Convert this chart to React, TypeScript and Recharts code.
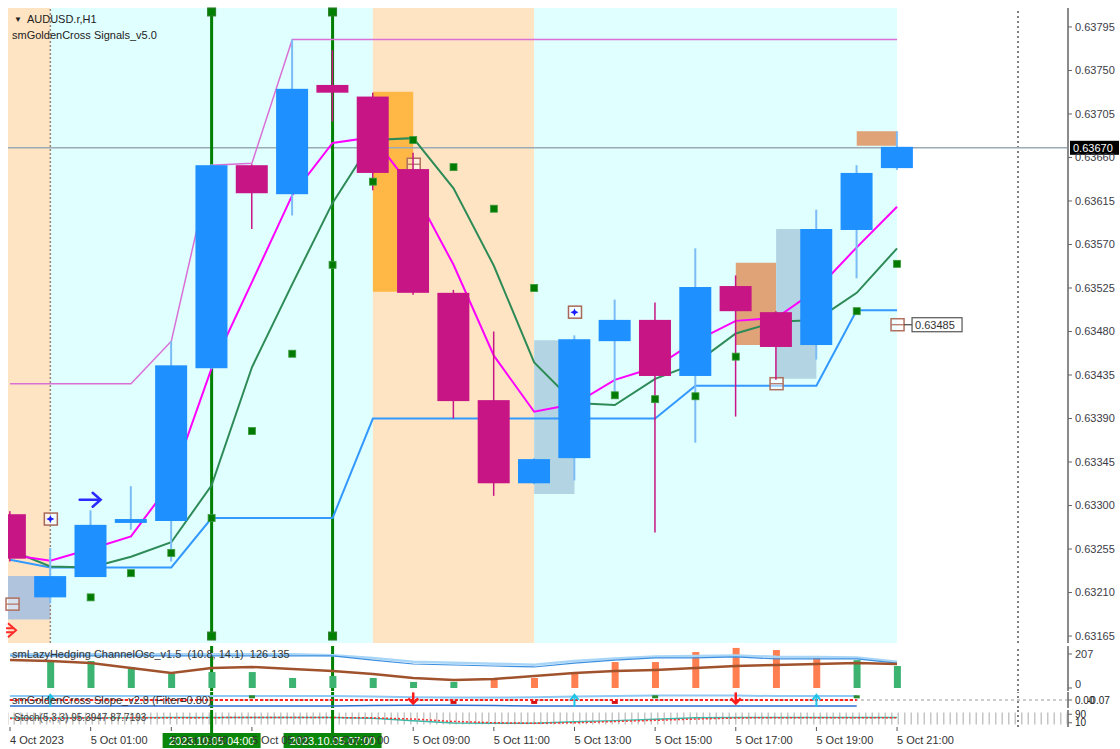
import React from 'react'
import {
  Bar,
  ComposedChart,
  Line,
  ReferenceArea,
  ReferenceDot,
  ReferenceLine,
  Scatter,
  XAxis,
  YAxis,
} from 'recharts'

const FONT = "'Liberation Sans', Arial, sans-serif"

// H1 bars, 4 Oct 23:00 .. 5 Oct 21:00
const barIndex = [0, 1, 2, 3, 4, 5, 6, 7, 8, 9, 10, 11, 12, 13, 14, 15, 16, 17, 18, 19, 20, 21, 22]

const openPrices = [0.63291, 0.63205, 0.63226, 0.63282, 0.63284, 0.63442, 0.63652, 0.63622, 0.63735, 0.63723, 0.63648, 0.6352, 0.63409, 0.63323, 0.63349, 0.6347, 0.63492, 0.63434, 0.63527, 0.635, 0.63466, 0.63585, 0.63649]
const highPrices = [0.63294, 0.63256, 0.63295, 0.6332, 0.6347, 0.63653, 0.63653, 0.63782, 0.63771, 0.63727, 0.63665, 0.63523, 0.6348, 0.63349, 0.63476, 0.63513, 0.6351, 0.63566, 0.63538, 0.63501, 0.63606, 0.63652, 0.63687]
const lowPrices = [0.63242, 0.63199, 0.63226, 0.63275, 0.63242, 0.63441, 0.63586, 0.636, 0.63697, 0.63626, 0.63518, 0.6339, 0.6331, 0.63322, 0.63326, 0.63417, 0.63272, 0.63365, 0.63392, 0.6343, 0.63451, 0.63535, 0.63647]
const closePrices = [0.63245, 0.63227, 0.6328, 0.63286, 0.63445, 0.63652, 0.63623, 0.63731, 0.63727, 0.63644, 0.6352, 0.63408, 0.63323, 0.63348, 0.63472, 0.63492, 0.63434, 0.63526, 0.63501, 0.63464, 0.63586, 0.63644, 0.63671]

const upperBand = [0.63426, 0.63426, 0.63426, 0.63426, 0.6347, 0.63652, 0.63654, 0.63782, 0.63782, 0.63782, 0.63782, 0.63782, 0.63782, 0.63782, 0.63782, 0.63782, 0.63782, 0.63782, 0.63782, 0.63782, 0.63782, 0.63782, 0.63782]
const lowerBand = [0.63244, 0.63236, 0.63236, 0.63236, 0.63236, 0.63287, 0.63287, 0.63287, 0.63287, 0.6339, 0.6339, 0.6339, 0.6339, 0.6339, 0.6339, 0.6339, 0.6339, 0.63424, 0.63424, 0.63424, 0.63424, 0.63502, 0.63502]
const fastMa = [0.63249, 0.63243, 0.63255, 0.63268, 0.63324, 0.63442, 0.63531, 0.63621, 0.63675, 0.63681, 0.63627, 0.63549, 0.63455, 0.63397, 0.63405, 0.6343, 0.63443, 0.6347, 0.63491, 0.63494, 0.63523, 0.63567, 0.63609]
const slowMa = [0.63254, 0.63237, 0.63236, 0.63247, 0.63262, 0.63321, 0.63443, 0.63529, 0.63613, 0.63678, 0.6368, 0.63628, 0.63548, 0.63448, 0.63406, 0.63404, 0.63431, 0.63447, 0.63478, 0.6349, 0.63492, 0.6352, 0.63566]
const signalDots = [null, null, 0.63205, 0.6323, 0.63251, 0.63287, 0.63377, 0.63457, 0.63549, 0.63635, 0.63678, 0.6365, 0.63607, 0.63525, null, 0.63414, 0.6341, 0.63413, 0.63454, null, null, 0.63501, 0.6355]

const priceTicks = [0.63795, 0.6375, 0.63705, 0.6366, 0.63615, 0.6357, 0.63525, 0.6348, 0.63435, 0.6339, 0.63345, 0.633, 0.63255, 0.6321, 0.63165]
const currentPrice = 0.6367
const currentPriceLabel = '0.63670'

// session shading and hedge boxes
const sessionFrom = [-0.05, 1, 9, 13]
const sessionTo = [1, 9, 13, 22]
const sessionKind = ['active', 'calm', 'active', 'calm']

const boxFrom = [-0.05, 9, 13, 18, 19, 21]
const boxTo = [1, 10, 14, 19, 20, 22]
const boxTop = [0.63227, 0.63728, 0.63471, 0.63551, 0.63586, 0.63687]
const boxBottom = [0.63182, 0.63521, 0.63312, 0.63466, 0.63431, 0.63672]
const boxKind = ['hedgeA', 'break', 'hedge', 'sell', 'hedge', 'sell']

// markers
const crossBars = [5, 8]
const crossLabels = ['2023.10.05 04:00', '2023.10.05 07:00']
const crossTop = 0.638105
const crossBottom = 0.63165
const entryArrowBars = [2]
const entryArrowPrices = [0.63306]
const openTradeBars = [1, 14]
const openTradePrices = [0.63286, 0.635]
const closeTradeBars = [0.05, 10, 19, 22]
const closeTradePrices = [0.63198, 0.63653, 0.63426, 0.63487]
const closeTradeLabels = ['', '', '', '0.63485']
const sellArrowBars = [0.05]
const sellArrowPrices = [0.63171]
const daySeparatorBars = [1, 25]

// sub-window 1: smLazyHedging ChannelOsc
const histValues = [0, 164, 164, 128, 85, 97, 97, 61, 73, 61, 37, 37, 61, 61, 91, 158, 158, 219, 244, 231, 195, 170, 134]
const histDir = [1, 1, 1, 1, 1, 1, 1, 1, 1, 1, 1, 1, -1, -1, -1, -1, -1, -1, -1, -1, -1, 1, 1]
const oscSignal = [171, 164, 152, 122, 91, 122, 128, 116, 103, 85, 61, 49, 55, 73, 91, 103, 110, 122, 134, 140, 146, 152, 146]
const oscBand = [195, 195, 195, 195, 195, 195, 195, 195, 195, 170, 146, 140, 134, 128, 152, 170, 183, 183, 189, 177, 177, 177, 152]
const oscBandOuter = [205, 205, 205, 205, 205, 205, 205, 205, 200, 182, 160, 154, 148, 142, 165, 180, 192, 195, 198, 190, 188, 186, 160]
const oscTicks = [0, 207]

// sub-window 2: smGoldenCross Slope
const slopeFast = [0.05, 0.05, 0.05, 0.05, 0.05, 0.05, 0.05, 0.05, 0.05, 0.045, 0.035, 0.03, 0.03, 0.035, 0.045, 0.05, 0.055, 0.055, 0.055, 0.05, 0.05, 0.05, null]
const slopeSlow = [-0.075, -0.075, -0.075, -0.075, -0.075, -0.075, -0.075, -0.075, -0.075, -0.07, -0.065, -0.065, -0.07, -0.075, -0.075, -0.075, -0.075, -0.075, -0.075, -0.075, -0.075, -0.075, null]
const slopeLevel = [0, 0, 0, 0, 0, 0, 0, 0, 0, 0, 0, 0, 0, 0, 0, 0, 0, 0, 0, 0, 0, 0, null]
const slopeUpBars = [1, 14, 20]
const slopeDownBars = [10, 18]
const slopeRedBars = [11, 13, 15]
const slopeGreenBars = [6, 16, 21]
const slopeAxisLabels = ['0.00', '-0.07']

// sub-window 3: Stoch
const stochK = [55, 55, 56, 58, 59, 60, 60, 59, 59, 52, 29, 8, 5, 6, 20, 30, 42, 58, 60, 60, 59, 60, 60]
const stochD = [50, 52, 54, 56, 57, 58, 59, 59, 59, 56, 45, 22, 10, 5, 10, 22, 33, 45, 55, 58, 58, 58, 58]
const stochTicks = [90, 10]

const timeTickBars = [0, 2, 4, 6, 8, 10, 12, 14, 16, 18, 20, 22]
const timeTickLabels = ['4 Oct 2023', '5 Oct 01:00', '5 Oct 03:00', '5 Oct 05:00', '5 Oct 07:00', '5 Oct 09:00', '5 Oct 11:00', '5 Oct 13:00', '5 Oct 15:00', '5 Oct 17:00', '5 Oct 19:00', '5 Oct 21:00']

const X_DOMAIN: [number, number] = [-0.05, 26.24]
const PRICE_DOMAIN: [number, number] = [0.631578, 0.638146]

const candleRows = barIndex.map((i) => ({
  i,
  range: [lowPrices[i], highPrices[i]],
  open: openPrices[i],
  high: highPrices[i],
  low: lowPrices[i],
  close: closePrices[i],
  upper: upperBand[i],
  lower: lowerBand[i],
  fast: fastMa[i],
  slow: slowMa[i],
}))

const signalRows = barIndex
  .filter((i) => signalDots[i] !== null)
  .map((i) => ({ i, v: signalDots[i] }))

const panelRows = barIndex.map((i) => ({
  i,
  hist: histValues[i],
  dir: histDir[i],
  signal: oscSignal[i],
  band: oscBand[i],
  outer: oscBandOuter[i],
  fast: slopeFast[i],
  slow: slopeSlow[i],
  level: slopeLevel[i],
  k: stochK[i],
  d: stochD[i],
}))

function Candle(props: any) {
  const { x, y, width, height, payload } = props
  if (!payload || height == null || isNaN(y)) return null
  const { open, close, high, low } = payload
  const up = close >= open
  const k = height / (high - low || 1e-9)
  const yOpen = y + (high - open) * k
  const yClose = y + (high - close) * k
  const top = Math.min(yOpen, yClose)
  const h = Math.max(2, Math.abs(yOpen - yClose))
  const cx = x + width / 2
  return (
    <g>
      <line x1={cx} x2={cx} y1={y} y2={y + height} stroke={up ? '#7cbcf6' : '#c71585'} strokeWidth={up ? 2 : 1.5} />
      <rect x={x} y={top} width={width} height={h} fill={up ? '#1e90ff' : '#c71585'} />
    </g>
  )
}

function SignalSquare(props: any) {
  const { cx, cy } = props
  if (cx == null || cy == null) return null
  return <rect x={cx - 3.5} y={cy - 3.5} width={7} height={7} fill="#007a00" stroke="#3d9a3d" strokeWidth={0.8} />
}

function EndSquare(props: any) {
  return <rect x={props.cx - 4} y={props.cy - 4} width={8} height={8} fill="#008000" stroke="#2f7d2f" />
}

function EntryArrow(props: any) {
  const { cx, cy } = props
  return (
    <g stroke="#2a2aff" strokeWidth={2.5} fill="none" strokeLinecap="round">
      <line x1={cx - 11} y1={cy} x2={cx + 9} y2={cy} />
      <polyline points={`${cx + 2},${cy - 7} ${cx + 10},${cy} ${cx + 2},${cy + 7}`} />
    </g>
  )
}

function SellArrow(props: any) {
  const { cx, cy } = props
  return (
    <g stroke="#ff2a2a" strokeWidth={2} fill="none">
      <polyline points={`${cx - 4},${cy - 7} ${cx + 4},${cy} ${cx - 4},${cy + 7}`} />
      <line x1={cx - 6} y1={cy - 2} x2={cx + 1} y2={cy - 2} />
      <line x1={cx - 6} y1={cy + 2} x2={cx + 1} y2={cy + 2} />
    </g>
  )
}

function OpenTrade(props: any) {
  const { cx, cy } = props
  return (
    <g>
      <rect x={cx - 6} y={cy - 6} width={13} height={12} fill="rgba(255,255,255,0.6)" stroke="#a8685a" strokeWidth={1.5} />
      <path d={`M${cx - 4} ${cy} L${cx - 1} ${cy - 1.5} L${cx} ${cy - 4} L${cx + 1} ${cy - 1.5} L${cx + 4} ${cy} L${cx + 1} ${cy + 1.5} L${cx} ${cy + 4} L${cx - 1} ${cy + 1.5} Z`} fill="#1a1aff" />
    </g>
  )
}

function CloseTrade(props: any) {
  const { cx, cy, text } = props
  return (
    <g>
      <rect x={cx - 6} y={cy - 6} width={13} height={12} fill="rgba(255,255,255,0.5)" stroke="#b0705e" strokeWidth={1.5} />
      <line x1={cx - 6} x2={cx + 7} y1={cy} y2={cy} stroke="#b0705e" strokeWidth={1.2} />
      {text ? (
        <g>
          <line x1={cx + 7} x2={cx + 15} y1={cy} y2={cy} stroke="#444" strokeWidth={1.2} />
          <rect x={cx + 15} y={cy - 7} width={50} height={14} fill="#fff" stroke="#555" strokeWidth={1.2} />
          <text x={cx + 18} y={cy + 4} fontSize={11} fill="#333" fontFamily={FONT}>{text}</text>
        </g>
      ) : null}
    </g>
  )
}

function PriceTag(props: any) {
  const { viewBox, text } = props
  if (!viewBox) return null
  const x = viewBox.x + viewBox.width + 2
  const y = viewBox.y
  return (
    <g>
      <rect x={x} y={y - 7} width={49} height={14} fill="#000" />
      <text x={x + 3} y={y + 4} fontSize={11} fill="#fff" fontFamily={FONT}>{text}</text>
    </g>
  )
}

function TimeTag(props: any) {
  const { viewBox, text } = props
  if (!viewBox) return null
  const x = viewBox.x
  const top = viewBox.y + viewBox.height
  return (
    <g>
      <line x1={x} x2={x} y1={top} y2={top + 6} stroke="#008000" strokeWidth={3} />
      <rect x={x - 49} y={top + 6} width={98} height={15} fill="#0a870a" />
      <text x={x} y={top + 17.5} textAnchor="middle" fontSize={11} fill="#fff" fontFamily={FONT}>{text}</text>
    </g>
  )
}

function TimeTick(props: any) {
  const { x, y, payload } = props
  const n = timeTickBars.indexOf(payload.value)
  return (
    <text x={x} y={y + 11} textAnchor="start" fontSize={11} fill="#333" fontFamily={FONT}>
      {timeTickLabels[n]}
    </text>
  )
}

function OscTick(props: any) {
  const { x, y, payload } = props
  const lift = payload.value === 0 ? -4 : 0
  return (
    <text x={x} y={y + 4 + lift} fontSize={11} fill="#3c3c46" fontFamily={FONT}>
      {payload.value}
    </text>
  )
}

function SlopeTick(props: any) {
  const { x, y } = props
  return (
    <g fontSize={10} fill="#222" fontFamily={FONT}>
      <text x={x} y={y + 4}>{slopeAxisLabels[0]}</text>
      <text x={x + 12} y={y + 4}>{slopeAxisLabels[1]}</text>
    </g>
  )
}

function HistBar(props: any) {
  const { x, y, width, height, payload } = props
  if (!height || height <= 0) return null
  return <rect x={x} y={y} width={width} height={height} fill={payload.dir > 0 ? '#3cb371' : '#ff7f50'} />
}

function UpArrow(props: any) {
  const { cx, cy } = props
  return (
    <g stroke="#1fc4e8" strokeWidth={2} fill="none">
      <line x1={cx} x2={cx} y1={cy + 6} y2={cy - 5} />
      <polyline points={`${cx - 4},${cy - 1} ${cx},${cy - 6} ${cx + 4},${cy - 1}`} />
    </g>
  )
}

function DownArrow(props: any) {
  const { cx, cy } = props
  return (
    <g stroke="#ff1a1a" strokeWidth={2.5} fill="none">
      <line x1={cx} x2={cx} y1={cy - 6} y2={cy + 5} />
      <polyline points={`${cx - 5},${cy} ${cx},${cy + 5} ${cx + 5},${cy}`} />
    </g>
  )
}

function RedMark(props: any) {
  return <rect x={props.cx - 3} y={props.cy - 1.5} width={6} height={3} fill="#d81010" />
}

function GreenMark(props: any) {
  return <rect x={props.cx - 3} y={props.cy - 1.5} width={6} height={3} fill="#2a8a2a" />
}

const axisTick = { fontSize: 11, fill: '#3c3c46', fontFamily: FONT }

function sharedX() {
  return <XAxis type="number" dataKey="i" domain={X_DOMAIN} allowDataOverflow hide />
}

function boxFill(kind: string) {
  if (kind === 'break') return '#ffb845'
  if (kind === 'sell') return '#e0a277'
  if (kind === 'hedgeA') return '#b0c4de'
  return '#b3d5e3'
}

function MainChart() {
  return (
    <ComposedChart width={1120} height={645} data={candleRows} margin={{ top: 8, right: 0, bottom: 2, left: 8 }}>
      {sharedX()}
      <YAxis
        orientation="right"
        type="number"
        domain={PRICE_DOMAIN}
        allowDataOverflow
        ticks={priceTicks}
        interval={0}
        width={52}
        tickSize={4}
        tickMargin={3}
        tickFormatter={(v: number) => v.toFixed(5)}
        tick={axisTick}
        axisLine={{ stroke: '#8a8a8a', strokeWidth: 2 }}
        tickLine={{ stroke: '#666' }}
      />
      {sessionFrom.map((x1, n) => (
        <ReferenceArea
          key={`s${n}`}
          x1={x1}
          x2={sessionTo[n]}
          fill={sessionKind[n] === 'active' ? '#ffe4c4' : '#e0ffff'}
          fillOpacity={1}
          stroke="none"
          zIndex={10}
        />
      ))}
      {boxFrom.map((x1, n) => (
        <ReferenceArea
          key={`b${n}`}
          x1={x1}
          x2={boxTo[n]}
          y1={boxBottom[n]}
          y2={boxTop[n]}
          fill={boxFill(boxKind[n])}
          fillOpacity={1}
          stroke="none"
          zIndex={20}
        />
      ))}
      <ReferenceLine x={daySeparatorBars[0]} stroke="#9a8676" strokeWidth={1.5} strokeDasharray="2 2" zIndex={30} />
      <ReferenceLine x={daySeparatorBars[1]} stroke="#555" strokeWidth={1.5} strokeDasharray="2 3" zIndex={30} />
      <ReferenceLine
        y={currentPrice}
        stroke="#9aabb5"
        strokeWidth={1.5}
        zIndex={40}
        label={<PriceTag text={currentPriceLabel} />}
      />
      {crossBars.map((b) => (
        <ReferenceLine
          key={`c${b}`}
          segment={[{ x: b, y: crossTop }, { x: b, y: crossBottom }]}
          stroke="#008000"
          strokeWidth={3}
          zIndex={50}
        />
      ))}
      <Line dataKey="upper" type="linear" stroke="#da70d6" strokeWidth={1.5} dot={false} isAnimationActive={false} zIndex={60} />
      <Line dataKey="lower" type="linear" stroke="#3399ff" strokeWidth={2} dot={false} isAnimationActive={false} zIndex={60} />
      <Line dataKey="slow" type="linear" stroke="#2e8b57" strokeWidth={2} dot={false} isAnimationActive={false} zIndex={60} />
      <Line dataKey="fast" type="linear" stroke="#ff00ff" strokeWidth={2} dot={false} isAnimationActive={false} zIndex={60} />
      {closeTradeBars.map((b, n) => (
        <ReferenceDot
          key={`cl${n}`}
          x={b}
          y={closeTradePrices[n]}
          r={6}
          shape={(p: any) => <CloseTrade {...p} text={closeTradeLabels[n]} />}
          zIndex={200}
        />
      ))}
      <Bar dataKey="range" barSize={32} shape={Candle} isAnimationActive={false} zIndex={300} />
      <Scatter data={signalRows} dataKey="v" shape={SignalSquare} isAnimationActive={false} zIndex={600} />
      {crossBars.map((b) => (
        <ReferenceDot key={`ct${b}`} x={b} y={crossTop} r={4} shape={EndSquare} zIndex={610} />
      ))}
      {crossBars.map((b) => (
        <ReferenceDot key={`cb${b}`} x={b} y={crossBottom} r={4} shape={EndSquare} zIndex={610} />
      ))}
      {entryArrowBars.map((b, n) => (
        <ReferenceDot key={`ea${n}`} x={b} y={entryArrowPrices[n]} r={6} shape={EntryArrow} zIndex={620} />
      ))}
      {sellArrowBars.map((b, n) => (
        <ReferenceDot key={`sa${n}`} x={b} y={sellArrowPrices[n]} r={6} shape={SellArrow} zIndex={620} />
      ))}
      {openTradeBars.map((b, n) => (
        <ReferenceDot key={`ot${n}`} x={b} y={openTradePrices[n]} r={6} shape={OpenTrade} zIndex={620} />
      ))}
      <ReferenceArea fill="none" stroke="#8c8c8c" strokeWidth={1.5} zIndex={700} />
    </ComposedChart>
  )
}

function LazyHedgePanel() {
  return (
    <ComposedChart width={1120} height={48} data={panelRows} margin={{ top: 2, right: 0, bottom: 1, left: 8 }}>
      {sharedX()}
      <YAxis
        orientation="right"
        type="number"
        domain={[-18.3, 255.7]}
        allowDataOverflow
        ticks={oscTicks}
        interval={0}
        width={52}
        tickSize={4}
        tickMargin={3}
        tick={<OscTick />}
        axisLine={{ stroke: '#8a8a8a', strokeWidth: 2 }}
        tickLine={{ stroke: '#666' }}
      />
      {crossBars.map((b) => (
        <ReferenceLine key={`c${b}`} x={b} stroke="#008000" strokeWidth={3} zIndex={50} />
      ))}
      <ReferenceLine x={daySeparatorBars[1]} stroke="#555" strokeWidth={1.5} strokeDasharray="2 3" zIndex={30} />
      <Bar dataKey="hist" barSize={7} shape={HistBar} isAnimationActive={false} zIndex={300} />
      <Line dataKey="outer" type="linear" stroke="#a9d6f7" strokeWidth={2.5} dot={false} isAnimationActive={false} zIndex={400} />
      <Line dataKey="band" type="linear" stroke="#3d8fe0" strokeWidth={1.2} dot={false} isAnimationActive={false} zIndex={400} />
      <Line dataKey="signal" type="linear" stroke="#a0522d" strokeWidth={2.5} dot={false} isAnimationActive={false} zIndex={400} />
      <ReferenceArea fill="none" stroke="#6e6e6e" strokeWidth={1.5} zIndex={700} />
    </ComposedChart>
  )
}

function SlopePanel() {
  return (
    <ComposedChart width={1120} height={18} data={panelRows} margin={{ top: 1, right: 0, bottom: 1, left: 8 }}>
      {sharedX()}
      <YAxis
        orientation="right"
        type="number"
        domain={[-0.1, 0.1]}
        allowDataOverflow
        ticks={[0]}
        interval={0}
        width={52}
        tickSize={4}
        tickMargin={3}
        tick={<SlopeTick />}
        axisLine={{ stroke: '#8a8a8a', strokeWidth: 2 }}
        tickLine={{ stroke: '#666' }}
      />
      <ReferenceLine y={0} stroke="#9a9a9a" strokeDasharray="3 3" zIndex={20} />
      {crossBars.map((b) => (
        <ReferenceLine key={`c${b}`} x={b} stroke="#008000" strokeWidth={3} zIndex={50} />
      ))}
      <ReferenceLine x={daySeparatorBars[1]} stroke="#555" strokeWidth={1.5} strokeDasharray="2 3" zIndex={30} />
      <Line dataKey="fast" type="linear" stroke="#8ec8f5" strokeWidth={2} dot={false} isAnimationActive={false} zIndex={400} />
      <Line dataKey="slow" type="linear" stroke="#2f6fd0" strokeWidth={1.5} dot={false} isAnimationActive={false} zIndex={400} />
      <Line dataKey="level" type="linear" stroke="#ff2020" strokeWidth={2} strokeDasharray="3 2" dot={false} isAnimationActive={false} zIndex={400} />
      {slopeUpBars.map((b) => (
        <ReferenceDot key={`u${b}`} x={b} y={-0.01} r={4} shape={UpArrow} zIndex={620} />
      ))}
      {slopeDownBars.map((b) => (
        <ReferenceDot key={`d${b}`} x={b} y={0.02} r={4} shape={DownArrow} zIndex={620} />
      ))}
      {slopeRedBars.map((b) => (
        <ReferenceDot key={`r${b}`} x={b} y={-0.03} r={3} shape={RedMark} zIndex={620} />
      ))}
      {slopeGreenBars.map((b) => (
        <ReferenceDot key={`g${b}`} x={b} y={0.04} r={3} shape={GreenMark} zIndex={620} />
      ))}
      <ReferenceArea fill="none" stroke="#6e6e6e" strokeWidth={1.5} zIndex={700} />
    </ComposedChart>
  )
}

function StochPanel() {
  return (
    <ComposedChart width={1120} height={40} data={panelRows} margin={{ top: 1, right: 0, bottom: 0, left: 8 }}>
      <XAxis
        type="number"
        dataKey="i"
        domain={X_DOMAIN}
        allowDataOverflow
        ticks={timeTickBars}
        interval={0}
        height={22}
        tickSize={4}
        tickMargin={2}
        axisLine={false}
        tickLine={{ stroke: '#555' }}
        tick={<TimeTick />}
      />
      <YAxis
        orientation="right"
        type="number"
        domain={[-30, 130]}
        allowDataOverflow
        ticks={stochTicks}
        interval={0}
        width={52}
        tickSize={4}
        tickMargin={3}
        tick={{ ...axisTick, fontSize: 10, fill: '#222' }}
        axisLine={{ stroke: '#8a8a8a', strokeWidth: 2 }}
        tickLine={{ stroke: '#666' }}
      />
      <ReferenceLine y={50} stroke="#c6c6c6" strokeWidth={12} strokeDasharray="1.5 5" zIndex={20} />
      <ReferenceLine x={daySeparatorBars[1]} stroke="#555" strokeWidth={1.5} strokeDasharray="2 3" zIndex={30} />
      <Line dataKey="k" type="linear" stroke="#3cb8a8" strokeWidth={1.5} dot={false} isAnimationActive={false} zIndex={400} />
      <Line dataKey="d" type="linear" stroke="#ff3030" strokeWidth={1.5} strokeDasharray="2 2" dot={false} isAnimationActive={false} zIndex={400} />
      <ReferenceArea fill="none" stroke="#6e6e6e" strokeWidth={1.5} zIndex={700} />
      {crossBars.map((b, n) => (
        <ReferenceLine
          key={`c${b}`}
          x={b}
          stroke="#008000"
          strokeWidth={3}
          zIndex={800}
          label={<TimeTag text={crossLabels[n]} />}
        />
      ))}
    </ComposedChart>
  )
}

const labelStyle: React.CSSProperties = {
  position: 'absolute',
  fontSize: 11,
  color: '#222',
  whiteSpace: 'nowrap',
  pointerEvents: 'none',
  fontFamily: FONT,
  lineHeight: '13px',
}

export default function App() {
  return (
    <div
      style={{
        position: 'absolute',
        left: 0,
        top: 0,
        width: 1120,
        height: 749,
        background: '#fff',
        overflow: 'hidden',
        fontFamily: FONT,
      }}
    >
      <div style={{ position: 'absolute', left: 0, top: 0 }}>
        <MainChart />
      </div>
      <div style={{ position: 'absolute', left: 0, top: 644 }}>
        <LazyHedgePanel />
      </div>
      <div style={{ position: 'absolute', left: 0, top: 691 }}>
        <SlopePanel />
      </div>
      <div style={{ position: 'absolute', left: 0, top: 709 }}>
        <StochPanel />
      </div>
      <div style={{ ...labelStyle, left: 14, top: 13 }}>
        <span style={{ fontSize: 8, marginRight: 5, verticalAlign: '1px' }}>▼</span>AUDUSD.r,H1
      </div>
      <div style={{ ...labelStyle, left: 12, top: 29 }}>smGoldenCross Signals_v5.0</div>
      <div style={{ ...labelStyle, left: 12, top: 648, color: '#333' }}>
        smLazyHedging ChannelOsc_v1.5&nbsp; (10.8, 14.1)&nbsp; 126 135
      </div>
      <div style={{ ...labelStyle, left: 12, top: 694, color: '#333' }}>smGoldenCross Slope_v2.8 (Filter=0.80)</div>
      <div style={{ ...labelStyle, left: 14, top: 711, color: '#444', fontSize: 10 }}>Stoch(5,3,3) 95.3947 87.7193</div>
    </div>
  )
}
